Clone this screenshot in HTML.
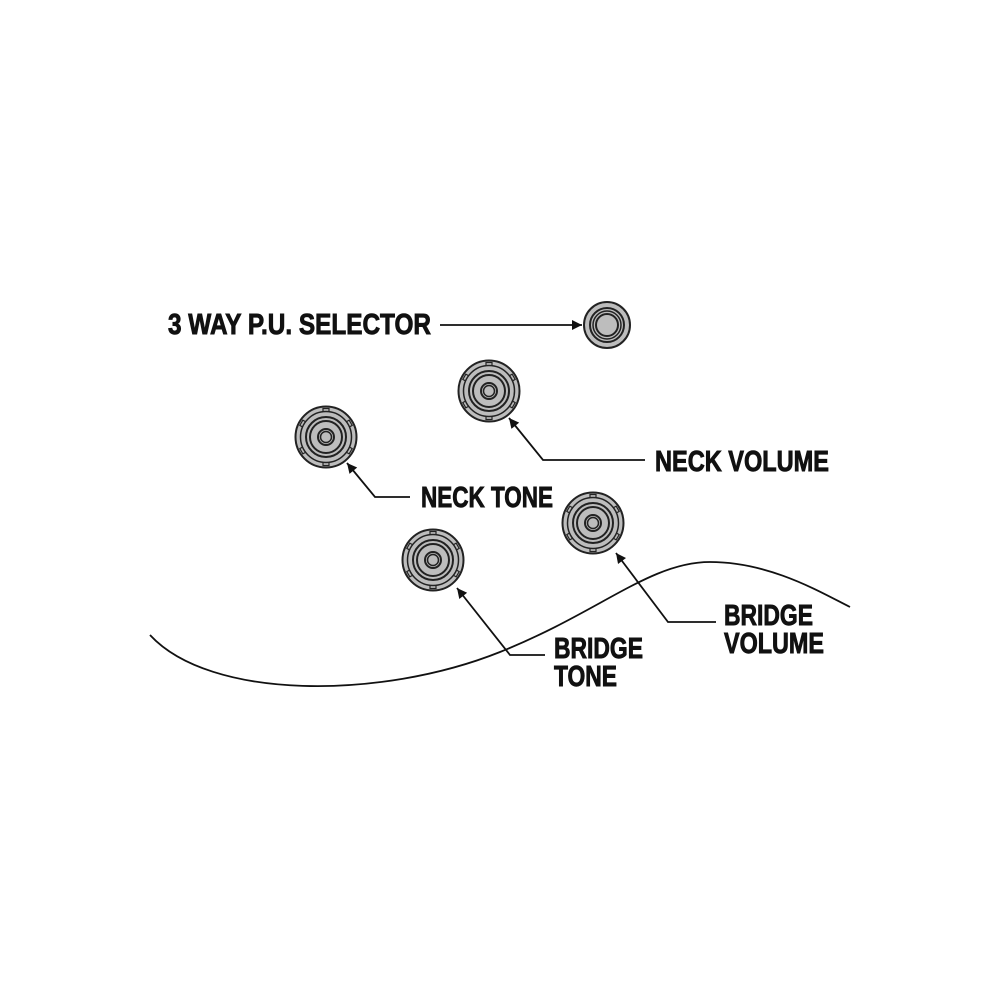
<!DOCTYPE html>
<html><head><meta charset="utf-8"><style>
html,body{margin:0;padding:0;background:#fff;}
svg{display:block;}
text{font-family:"Liberation Sans",sans-serif;font-weight:bold;font-size:29px;fill:#111;stroke:#111;stroke-width:0.9px;}
</style></head><body>
<svg width="1000" height="1000" viewBox="0 0 1000 1000" xmlns="http://www.w3.org/2000/svg">
<defs>
<marker id="ah" viewBox="0 0 10 10" refX="10" refY="5" markerWidth="14" markerHeight="10" markerUnits="userSpaceOnUse" orient="auto">
<path d="M0,0 L10,5 L0,10 Z" fill="#111"/>
</marker>
<g id="knob">
<circle r="30.5" fill="#bdbdbd" stroke="#222" stroke-width="2"/>
<circle r="25.5" fill="none" stroke="#222" stroke-width="1.5"/>
<circle r="20" fill="none" stroke="#222" stroke-width="2"/>
<circle r="16" fill="none" stroke="#222" stroke-width="2"/>
<circle r="8" fill="none" stroke="#222" stroke-width="2"/>
<circle r="5.5" fill="none" stroke="#222" stroke-width="1.5"/>
<g stroke="#222" stroke-width="1.2" fill="none">
<path d="M-3,-25.5 v-3 h6 v3"/><path d="M-3,25.5 v3 h6 v-3"/>
<path d="M-25.5,-3 h-3 v6 h3" transform="rotate(30)"/>
<path d="M25.5,-3 h3 v6 h-3" transform="rotate(30)"/>
<path d="M-25.5,-3 h-3 v6 h3" transform="rotate(-30)"/>
<path d="M25.5,-3 h3 v6 h-3" transform="rotate(-30)"/>
</g>
</g>
</defs>
<path d="M150,635 C210,700 380,700 500,652 C600,612 650,562 710,562 C770,562 820,592 850,607" fill="none" stroke="#111" stroke-width="1.8"/>

<g transform="translate(607,325)">
<circle r="23" fill="#bdbdbd" stroke="#222" stroke-width="2"/>
<circle r="17" fill="none" stroke="#222" stroke-width="2"/>
<circle r="14" fill="none" stroke="#222" stroke-width="1.5"/>
<circle r="11" fill="#bdbdbd" stroke="#222" stroke-width="2"/>
</g>
<use href="#knob" x="489" y="391"/>
<use href="#knob" x="326" y="437"/>
<use href="#knob" x="593" y="523"/>
<use href="#knob" x="433" y="560"/>

<g fill="none" stroke="#111" stroke-width="1.8">
<path d="M440,325 H582" marker-end="url(#ah)"/>
<path d="M645,460 H543 L509,418" marker-end="url(#ah)"/>
<path d="M410,497 H375 L347,463" marker-end="url(#ah)"/>
<path d="M716,622 H668 L616,553" marker-end="url(#ah)"/>
<path d="M545,655 H510 L457,588" marker-end="url(#ah)"/>
</g>

<text x="168" y="334" textLength="263" lengthAdjust="spacingAndGlyphs">3 WAY P.U. SELECTOR</text>
<text x="655" y="471" textLength="174" lengthAdjust="spacingAndGlyphs">NECK VOLUME</text>
<text x="421" y="507" textLength="132" lengthAdjust="spacingAndGlyphs">NECK TONE</text>
<text x="724" y="625" textLength="89" lengthAdjust="spacingAndGlyphs">BRIDGE</text>
<text x="724" y="653" textLength="100" lengthAdjust="spacingAndGlyphs">VOLUME</text>
<text x="554" y="658" textLength="89" lengthAdjust="spacingAndGlyphs">BRIDGE</text>
<text x="554" y="686" textLength="63" lengthAdjust="spacingAndGlyphs">TONE</text>
</svg>
</body></html>
